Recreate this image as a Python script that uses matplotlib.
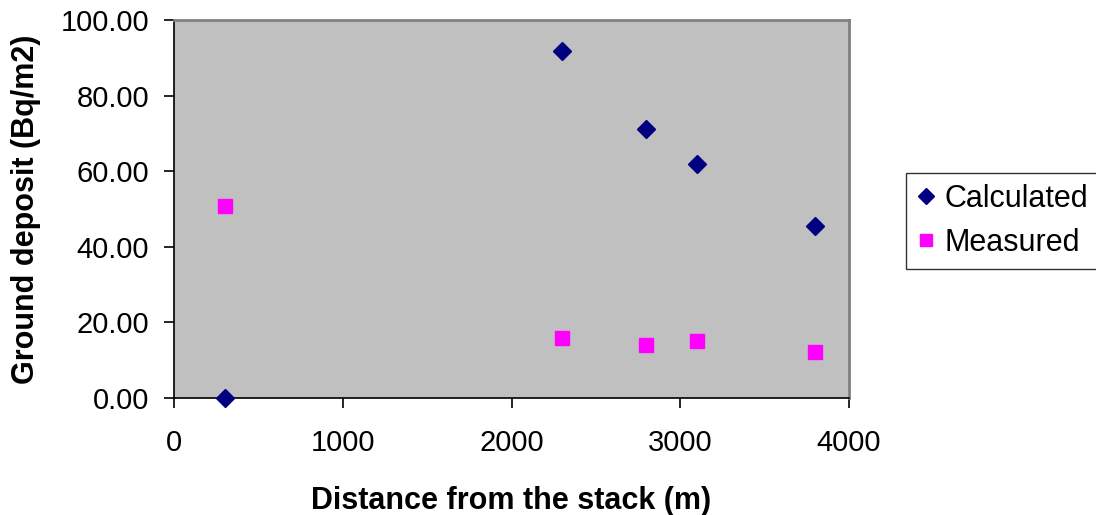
import numpy as np
import matplotlib.pyplot as plt
from matplotlib.ticker import FormatStrFormatter

plt.rcParams['font.family'] = ['Liberation Sans', 'DejaVu Sans']

distance = [300, 2300, 2800, 3100, 3800]
calculated = [0.0, 91.8, 71.2, 62.0, 45.5]
measured = [50.8, 15.9, 14.0, 15.1, 12.2]

fig = plt.figure(figsize=(10.96, 5.15), dpi=100)
ax = fig.add_axes([0.1588, 0.227, 0.6158, 0.734])
ax.set_facecolor('#c0c0c0')

ax.plot(distance, calculated, 'D', color='#000080', markersize=9,
        label='Calculated', clip_on=False, zorder=3)
ax.plot(distance, measured, 's', color='#ff00ff', markersize=10,
        label='Measured', clip_on=False, zorder=3)

ax.set_xlim(0, 4000)
ax.set_ylim(0, 100)
ax.set_xticks([0, 1000, 2000, 3000, 4000])
ax.set_yticks([0, 20, 40, 60, 80, 100])
ax.yaxis.set_major_formatter(FormatStrFormatter('%.2f'))
ax.tick_params(labelsize=21, direction='out', length=7, width=1.2)
ax.tick_params(axis='x', pad=15)
ax.tick_params(axis='y', pad=11)

for s in ['top', 'right']:
    ax.spines[s].set_color('#808080')
    ax.spines[s].set_linewidth(2)
for s in ['left', 'bottom']:
    ax.spines[s].set_color('black')
    ax.spines[s].set_linewidth(1.2)

ax.set_xlabel('Distance from the stack (m)', fontsize=22, fontweight='bold', labelpad=21)
ax.set_ylabel('Ground deposit (Bq/m2)', fontsize=22, fontweight='bold', labelpad=14)

leg = fig.legend(loc='center left', bbox_to_anchor=(0.8266, 0.571), fontsize=22,
                 frameon=True, fancybox=False, edgecolor='black', handlelength=0.6,
                 handletextpad=0.3, borderpad=0.35, labelspacing=0.45, markerscale=0.9,
                 borderaxespad=0)
leg.get_frame().set_linewidth(1.0)

fig.savefig('out.png', dpi=100)
